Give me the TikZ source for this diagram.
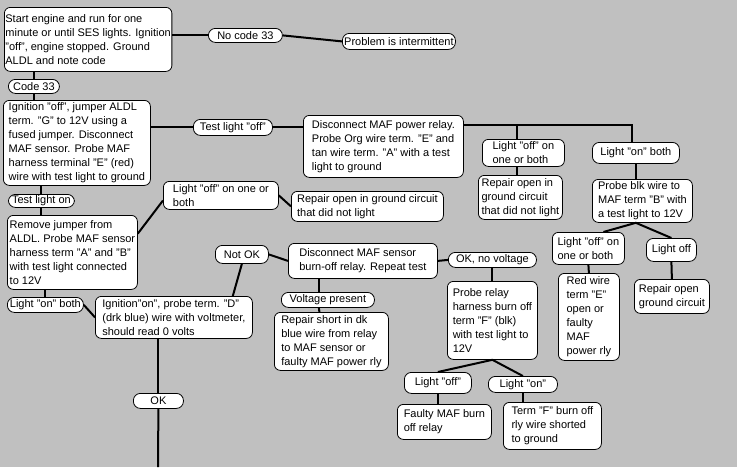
\documentclass[tikz,border=0pt]{standalone}
\usepackage{fontspec}
\setmainfont{Liberation Sans}
\definecolor{panel}{HTML}{C0C0C0}
\tikzset{
  box/.style={draw, fill=white, rounded corners=6pt, anchor=north west, align=left,
    inner xsep=1pt, inner ysep=1pt, line width=0.8pt, font=\fontsize{11}{14}\selectfont},
  tag/.style={box, rounded corners=7pt, align=center, inner ysep=0pt},
  link/.style={line width=2pt}
}
\begin{document}
\begin{tikzpicture}[x=1pt,y=-1pt]
            \fill[panel] (0,0) rectangle (737,467);
            \useasboundingbox (0,0) rectangle (737,467);
            \node[box, minimum width=163, minimum height=64] (start) at (4,7) {Start engine and run for one\\minute or until SES lights. Ignition\\"off", engine stopped. Ground\\ALDL and note code};
            \node[tag, minimum width=74, minimum height=14] (nocode) at (208,28) {No code 33};
            \node[tag, minimum width=113, minimum height=16] (problem) at (342,33) {Problem is intermittent};
            \node[tag, minimum width=51, minimum height=14] (code) at (8,79) {Code 33};
            \node[box, minimum width=147, minimum height=85] (jumper) at (3,100) {Ignition "off", jumper ALDL\\term. "G" to 12V using a\\fused jumper. Disconnect\\MAF sensor. Probe MAF\\harness terminal "E" (red)\\wire with test light to ground};
            \node[tag, minimum width=79, minimum height=16] (testoff) at (193,119) {Test light "off"};
            \node[box, minimum width=160, minimum height=62] (powrelay) at (303,115) {Disconnect MAF power relay.\\Probe Org wire term. "E" and\\tan wire term. "A" with a test\\light to ground};
            \node[box, minimum width=82, minimum height=27] (offa) at (482,139) {Light "off" on\\one or both};
            \node[box, minimum width=84, minimum height=44] (opena) at (478,175) {Repair open in\\ground circuit\\that did not light};
            \node[box, minimum width=87, minimum height=21, rounded corners=7pt] (ona) at (592,142) {Light "on" both};
            \node[box, minimum width=100, minimum height=43] (blk) at (592,179) {Probe blk wire to\\MAF term "B" with\\a test light to 12V};
            \node[box, minimum width=72, minimum height=32] (offb) at (552,232) {Light "off" on\\one or both};
            \node[box, minimum width=50, minimum height=23, rounded corners=7pt] (lightoff) at (646,238) {Light off};
            \node[box, minimum width=61, minimum height=87] (redwire) at (558,273) {Red wire\\term "E"\\open or\\faulty\\MAF\\power rly};
            \node[box, minimum width=75, minimum height=34] (openb) at (634,279) {Repair open\\ground circuit};
            \node[box, minimum width=115, minimum height=28] (offc) at (163,181) {Light "off" on one or\\both};
            \node[box, minimum width=152, minimum height=30] (openc) at (291,191) {Repair open in ground circuit\\that did not light};
            \node[tag, minimum width=66, minimum height=13] (teston) at (8,194) {Test light on};
            \node[box, minimum width=130, minimum height=74] (remove) at (7,215) {Remove jumper from\\ALDL. Probe MAF sensor\\harness term "A" and "B"\\with test light connected\\to 12V};
            \node[tag, minimum width=76, minimum height=15] (onc) at (7,297) {Light "on" both};
            \node[box, minimum width=157, minimum height=42] (volts) at (95,296) {Ignition"on", probe term. "D"\\(drk blue) wire with voltmeter,\\should read 0 volts};
            \node[tag, minimum width=53, minimum height=18] (notok) at (215,245) {Not OK};
            \node[box, minimum width=149, minimum height=35] (burnoff) at (288,243) {Disconnect MAF sensor\\burn-off relay. Repeat test};
            \node[tag, minimum width=93, minimum height=15] (present) at (281,292) {Voltage present};
            \node[box, minimum width=114, minimum height=58] (short) at (274,312) {Repair short in dk\\blue wire from relay\\to MAF sensor or\\faulty MAF power rly};
            \node[tag, minimum width=50, minimum height=15] (ok) at (133,393) {OK};
            \node[tag, minimum width=88, minimum height=15] (novolt) at (448,252) {OK, no voltage};
            \node[box, minimum width=90, minimum height=78] (harness) at (447,281) {Probe relay\\harness burn off\\term "F" (blk)\\with test light to\\12V};
            \node[tag, minimum width=67, minimum height=21] (offd) at (404,372) {Light "off"};
            \node[tag, minimum width=69, minimum height=16] (ond) at (488,376) {Light "on"};
            \node[box, minimum width=94, minimum height=35] (faulty) at (397,404) {Faulty MAF burn\\off relay};
            \node[box, minimum width=98, minimum height=47] (termf) at (503,402) {Term "F" burn off\\rly wire shorted\\to ground};
            \coordinate (fork) at (632,125);
            \coordinate (forkb) at (517,125);
            \coordinate (down) at (158,467);
            \draw[link] (start.east |- nocode) -- (nocode.west);
            \draw[link] (nocode.east) -- (problem.west);
            \draw[link] (start.south -| code) -- (code.north);
            \draw[link] (code.south) -- (jumper.north -| code);
            \draw[link] (jumper.east |- testoff) -- (testoff.west);
            \draw[link] (testoff.east) -- (powrelay.west |- testoff);
            \draw[link] (powrelay.east |- fork) -- (fork) -- (fork |- ona.north);
            \draw[link] (forkb) -- (forkb |- offa.north);
            \draw[link] (forkb |- offa.south) -- (forkb |- opena.north);
            \draw[link] (ona.south) -- (ona.south |- blk.north);
            \draw[link] ([xshift=15pt]offb.north) -- (blk.south -| ona) -- (lightoff.north);
            \draw[link] (offb.south) -- (redwire.north);
            \draw[link] (lightoff.south) -- (openb.north);
            \draw[link] (jumper.south -| teston) -- (teston.north);
            \draw[link] (teston.south) -- (remove.north -| teston);
            \draw[link] (remove.16) -- (offc.185);
            \draw[link] (offc.east) -- (openc.west);
            \draw[link] (remove.south -| onc) -- (onc.north);
            \draw[link] (onc.east) -- (volts.west);
            \draw[link] ([xshift=-20pt]volts.north east) -- (notok.south);
            \draw[link] (notok.east) -- (burnoff.west);
            \draw[link] (burnoff.east) -- (novolt.west);
            \draw[link] ([xshift=-9pt]present.north) -- ([xshift=-44pt]burnoff.south);
            \draw[link] ([xshift=-9pt]present.south) -- ([xshift=-12pt]short.north);
            \draw[link] (ok.north |- volts.south) -- (ok.north);
            \draw[link] (ok.south) -- (down);
            \draw[link] (novolt.south) -- (harness.north);
            \draw[link] (offd.north) -- (harness.south) -- (ond.north);
            \draw[link] (offd.south) -- (offd.south |- faulty.north);
            \draw[link] (ond.south) -- (ond.south |- termf.north);
        \end{tikzpicture}
\end{document}
